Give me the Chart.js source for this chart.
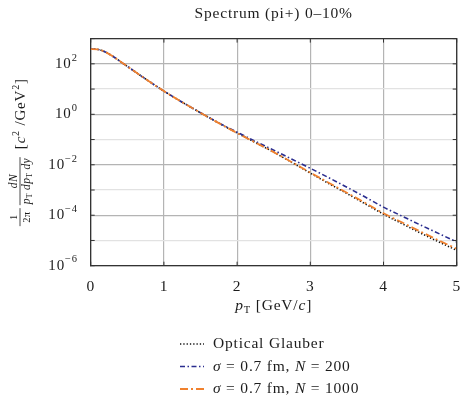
<!DOCTYPE html>
<html>
<head>
<meta charset="utf-8">
<script src="https://cdn.jsdelivr.net/npm/chart.js@4.4.1/dist/chart.umd.min.js"></script>
<style>
  html, body { margin: 0; padding: 0; background: #fff; }
  canvas { display: block; }
</style>
</head>
<body>
<canvas id="spectrum" width="462" height="395"></canvas>
<script>
// pT grid (GeV/c) and the three spectra
var pT = [0, 0.1, 0.2, 0.3, 0.4, 0.5, 0.75, 1.0, 1.25, 1.5, 1.75, 2.0, 2.25, 2.5, 2.75, 3.0, 3.25, 3.5, 3.75, 4.0, 4.25, 4.5, 4.75, 5.0];

var opticalGlauber = [385, 372, 295, 200, 126, 79.4, 25.1, 8.32, 3.02, 1.15, 0.447, 0.182, 0.0759, 0.0316, 0.0123, 0.00468, 0.00182, 7.24e-4, 2.82e-4, 1.10e-4, 4.68e-5, 2.0e-5, 8.91e-6, 4.07e-6];
var sigmaN200 = [385, 372, 295, 200, 126, 79.4, 25.1, 8.32, 3.02, 1.15, 0.457, 0.195, 0.0851, 0.038, 0.0166, 0.00724, 0.00309, 0.00129, 5.25e-4, 2.09e-4, 9.33e-5, 4.17e-5, 1.91e-5, 8.71e-6];
var sigmaN1000 = [385, 372, 295, 200, 126, 79.4, 25.1, 8.32, 3.02, 1.15, 0.447, 0.182, 0.0759, 0.0316, 0.0126, 0.0049, 0.00195, 7.76e-4, 3.09e-4, 1.20e-4, 5.25e-5, 2.29e-5, 1.02e-5, 4.68e-6];

var seriesLabels = ['Optical Glauber', 'σ = 0.7 fm, N = 200', 'σ = 0.7 fm, N = 1000'];

var xTicks = [0, 1, 2, 3, 4, 5];
var yTicks = [1e-6, 1e-5, 1e-4, 1e-3, 1e-2, 1e-1, 1, 10, 100, 1000];
var yTickExp = ['−6', '', '−4', '', '−2', '', '0', '', '2', ''];

var SERIF = '"Liberation Serif", "DejaVu Serif", serif';
var INK = '#1c1c1c';
var SPACING = '0.8px';

function pts(ys) {
    return pT.map(function (x, i) { return { x: x, y: ys[i] }; });
}

// draw a run of text pieces with different fonts / vertical offsets
function drawRun(ctx, parts, x, y, align) {
    var total = 0;
    parts.forEach(function (p) { ctx.font = p.f; p.w = ctx.measureText(p.t).width; total += p.w; });
    var cx = align === 'center' ? x - total / 2 : (align === 'right' ? x - total : x);
    ctx.textAlign = 'left';
    parts.forEach(function (p) {
        ctx.font = p.f;
        ctx.fillText(p.t, cx, y + (p.dy || 0));
        cx += p.w;
    });
    return total;
}

function mathParts(label, size) {
    // italic for math symbols
    var out = [];
    for (var i = 0; i < label.length; i++) {
        var c = label[i];
        var it = (c === 'σ' || c === 'N');
        out.push({ t: c, f: (it ? 'italic ' : '') + size + 'px ' + SERIF });
    }
    return out;
}

var decorations = {
    id: 'decorations',
    beforeDraw: function (chart) {
        chart.ctx.letterSpacing = SPACING;
    },
    afterDraw: function (chart) {
        var ctx = chart.ctx;
        var a = chart.chartArea;
        var xs = chart.scales.x, ys = chart.scales.y;
        ctx.save();

        // top/right frame and inward ticks
        ctx.strokeStyle = '#333';
        ctx.lineWidth = 1.3;
        ctx.beginPath();
        ctx.moveTo(a.left, a.top); ctx.lineTo(a.right, a.top); ctx.lineTo(a.right, a.bottom);
        ctx.stroke();
        ctx.lineWidth = 1;
        ctx.beginPath();
        xTicks.forEach(function (v) {
            var px = xs.getPixelForValue(v);
            ctx.moveTo(px, a.bottom); ctx.lineTo(px, a.bottom - 4);
            ctx.moveTo(px, a.top); ctx.lineTo(px, a.top + 4);
        });
        yTicks.forEach(function (v) {
            var py = ys.getPixelForValue(v);
            ctx.moveTo(a.left, py); ctx.lineTo(a.left + 4, py);
            ctx.moveTo(a.right, py); ctx.lineTo(a.right - 4, py);
        });
        ctx.stroke();

        // y tick labels 10^n
        ctx.fillStyle = INK;
        ctx.textBaseline = 'middle';
        yTicks.forEach(function (v, i) {
            if (!yTickExp[i]) return;
            var py = ys.getPixelForValue(v);
            drawRun(ctx, [
                { t: '10', f: '15px ' + SERIF, dy: 0 },
                { t: yTickExp[i], f: '10.5px ' + SERIF, dy: -6 }
            ], a.left - 13, py, 'right');
        });

        // y axis title (rotated)
        ctx.translate(20, (a.top + a.bottom) / 2);
        ctx.rotate(-Math.PI / 2);
        ctx.textBaseline = 'alphabetic';
        ctx.letterSpacing = '0.3px';
        var small = '10.5px ' + SERIF, smallIt = 'italic 11.5px ' + SERIF, sub = '8px ' + SERIF;
        // 1 / 2pi
        ctx.font = small;
        ctx.textAlign = 'center';
        ctx.fillText('1', -65, -3);
        ctx.fillText('2π', -65, 10);
        ctx.lineWidth = 0.8;
        ctx.strokeStyle = INK;
        ctx.beginPath(); ctx.moveTo(-74, 0); ctx.lineTo(-56, 0); ctx.stroke();
        // dN / pT dpT dy
        drawRun(ctx, [{ t: 'dN', f: smallIt }], -29, -3, 'center');
        drawRun(ctx, [
            { t: 'p', f: smallIt }, { t: 'T', f: sub, dy: 2 },
            { t: ' dp', f: smallIt }, { t: 'T', f: sub, dy: 2 },
            { t: ' dy', f: smallIt }
        ], -29, 10, 'center');
        ctx.beginPath(); ctx.moveTo(-53, 0); ctx.lineTo(-5, 0); ctx.stroke();
        // [c^2/GeV^2]
        ctx.letterSpacing = SPACING;
        drawRun(ctx, [
            { t: '[', f: '15px ' + SERIF },
            { t: 'c', f: 'italic 15px ' + SERIF },
            { t: '2', f: '10px ' + SERIF, dy: -6 },
            { t: ' /GeV', f: '15px ' + SERIF },
            { t: '2', f: '10px ' + SERIF, dy: -6 },
            { t: ']', f: '15px ' + SERIF }
        ], 3, 5, 'left');
        ctx.setTransform(1, 0, 0, 1, 0, 0);

        // x axis title
        ctx.fillStyle = INK;
        drawRun(ctx, [
            { t: 'p', f: 'italic 15.5px ' + SERIF },
            { t: 'T', f: '10.5px ' + SERIF, dy: 3 },
            { t: ' [GeV/', f: '15.5px ' + SERIF },
            { t: 'c', f: 'italic 15.5px ' + SERIF },
            { t: ']', f: '15.5px ' + SERIF }
        ], (a.left + a.right) / 2, 309.5, 'center');

        // legend
        var rowY = [344, 366.5, 389];
        chart.data.datasets.forEach(function (ds, i) {
            var y = rowY[i];
            ctx.save();
            ctx.strokeStyle = ds.borderColor;
            ctx.lineWidth = ds.borderWidth;
            ctx.setLineDash(ds.borderDash || []);
            ctx.beginPath(); ctx.moveTo(180, y); ctx.lineTo(204, y); ctx.stroke();
            ctx.restore();
            ctx.fillStyle = INK;
            ctx.textBaseline = 'middle';
            drawRun(ctx, mathParts(ds.label, 15.5), 213, y, 'left');
        });

        ctx.restore();
    }
};

new Chart(document.getElementById('spectrum'), {
    type: 'line',
    data: {
        datasets: [
            { label: seriesLabels[0], data: pts(opticalGlauber), borderColor: '#111', borderWidth: 1.6, borderDash: [1.3, 2], order: 3 },
            { label: seriesLabels[1], data: pts(sigmaN200), borderColor: '#2a2d8f', borderWidth: 1.6, borderDash: [5, 2.5, 1.5, 2.5], order: 2 },
            { label: seriesLabels[2], data: pts(sigmaN1000), borderColor: '#f0812e', borderWidth: 1.8, borderDash: [8, 3, 2, 3], order: 1 }
        ]
    },
    options: {
        responsive: false,
        animation: false,
        devicePixelRatio: 1,
        events: [],
        elements: {
            point: { radius: 0 },
            line: { cubicInterpolationMode: 'monotone', fill: false }
        },
        layout: { padding: { left: 0, right: 5.3, top: 0, bottom: 0 } },
        plugins: {
            legend: { display: false },
            tooltip: { enabled: false },
            title: {
                display: true,
                text: 'Spectrum (pi+) 0–10%',
                fullSize: false,
                color: INK,
                font: { family: SERIF, size: 15.5, weight: 'normal', lineHeight: 1.2 },
                padding: { top: 5, bottom: 15 }
            }
        },
        scales: {
            x: {
                type: 'linear', min: 0, max: 5,
                afterBuildTicks: function (s) { s.ticks = xTicks.map(function (v) { return { value: v }; }); },
                afterFit: function (s) { s.height = 129.3; s.paddingLeft = 0; s.paddingRight = 0; },
                ticks: { color: INK, font: { family: SERIF, size: 15.5 }, padding: 12, maxRotation: 0 },
                grid: { color: '#b4b4b4', lineWidth: 1.2, drawTicks: false },
                border: { color: '#333', width: 1.3 }
            },
            y: {
                type: 'logarithmic', min: 1e-6, max: 1e3,
                afterBuildTicks: function (s) { s.ticks = yTicks.map(function (v) { return { value: v }; }); },
                afterFit: function (s) { s.width = 90.7; },
                ticks: { display: false },
                grid: {
                    drawTicks: false,
                    lineWidth: 1.2,
                    color: function (c) {
                        var e = Math.round(Math.log10(c.tick.value));
                        return e % 2 === 0 ? '#b4b4b4' : '#e2e2e2';
                    }
                },
                border: { color: '#333', width: 1.3 }
            }
        }
    },
    plugins: [decorations]
});
</script>
</body>
</html>
